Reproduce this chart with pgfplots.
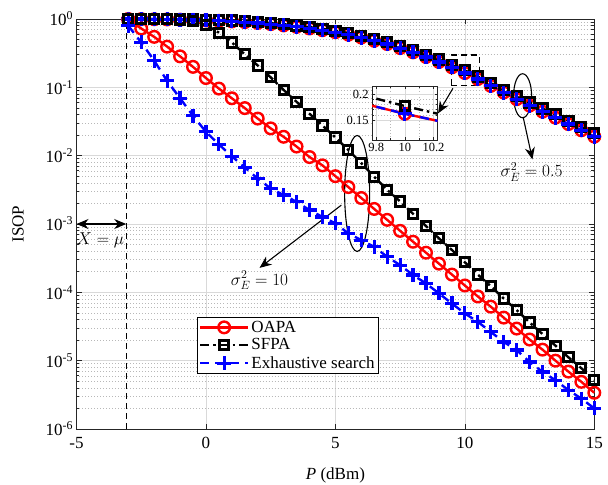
\documentclass[border=0pt]{standalone}
\usepackage{pgfplots}
\pgfplotsset{compat=1.18}
\usepackage{pgfplotstable}
\usetikzlibrary{arrows.meta}
\usepackage{fontspec}
\setmainfont{Liberation Serif}

\pgfplotstableread{
x     oapa    sfpa    es
-3    1.0     1.0     1.0
-2.5  0.997   1.0     0.997
-2    0.992   0.999   0.992
-1.5  0.986   0.996   0.986
-1    0.978   0.992   0.978
-0.5  0.968   0.985   0.968
0     0.955   0.975   0.955
0.5   0.94    0.963   0.94
1     0.922   0.948   0.922
1.5   0.90    0.928   0.90
2     0.875   0.906   0.875
2.5   0.842   0.874   0.842
3     0.805   0.839   0.805
3.5   0.767   0.802   0.767
4     0.727   0.763   0.727
4.5   0.685   0.721   0.685
5     0.64    0.676   0.64
5.5   0.59    0.625   0.59
6     0.535   0.569   0.535
6.5   0.48    0.512   0.48
7     0.43    0.460   0.43
7.5   0.375   0.403   0.375
8     0.325   0.350   0.325
8.5   0.278   0.300   0.278
9     0.235   0.255   0.235
9.5   0.196   0.213   0.196
10    0.162   0.177   0.162
10.5  0.132   0.1445  0.132
11    0.105   0.1153  0.105
11.5  0.084   0.0925  0.084
12    0.067   0.0740  0.067
12.5  0.054   0.0599  0.054
13    0.044   0.0489  0.044
13.5  0.036   0.0402  0.036
14    0.029   0.0325  0.029
14.5  0.0235  0.0264  0.0235
15    0.019   0.0214  0.019
}\uppertab

\pgfplotstableread{
x     oapa     sfpa     es
-3    0.977    1.0      0.798
-2.5  0.726    0.998    0.454
-2    0.548    0.995    0.246
-1.5  0.394    0.989    0.1245
-1    0.284    0.973    0.0692
-0.5  0.1995   0.929    0.0384
0     0.1368   0.822    0.0223
0.5   0.0959   0.631    0.0146
1     0.0692   0.454    0.0098
1.5   0.0497   0.304    0.00673
2     0.0349   0.209    0.00461
2.5   0.0251   0.140    0.00332
3     0.0189   0.0916   0.00265
3.5   0.0136   0.0614   0.00211
4     0.00955  0.0411   0.00160
4.5   0.00721  0.0276   0.00127
5     0.00501  0.0185   0.00102
5.5   0.00347  0.0121   7.28e-4
6     0.00240  0.00776  5.81e-4
6.5   0.00166  0.00490  4.63e-4
7     0.00115  0.00316  3.31e-4
7.5   7.94e-4  0.00214  2.50e-4
8     5.50e-4  0.00141  1.79e-4
8.5   3.80e-4  9.33e-4  1.35e-4
9     2.63e-4  6.17e-4  9.64e-5
9.5   1.82e-4  4.17e-4  6.87e-5
10    1.26e-4  2.75e-4  4.91e-5
10.5  8.71e-5  1.82e-4  3.70e-5
11    6.17e-5  1.23e-4  2.64e-5
11.5  4.27e-5  8.13e-5  1.88e-5
12    2.95e-5  5.50e-5  1.43e-5
12.5  2.04e-5  3.63e-5  9.59e-6
13    1.45e-5  2.45e-5  6.85e-6
13.5  1.00e-5  1.66e-5  5.18e-6
14    6.92e-6  1.12e-5  3.70e-6
14.5  4.90e-6  7.76e-6  2.79e-6
15    3.39e-6  5.25e-6  2.00e-6
}\lowertab

\tikzset{
  oapa/.style={red, line width=2.4bp, mark=o, mark size=5.8bp, mark options={solid, line width=2.4bp}},
  sfpa/.style={black, line width=2.4bp, dash pattern=on 9bp off 4bp on 2.5bp off 4bp, mark=square, mark size=4.6bp, mark options={solid, line width=3bp}},
  es/.style={blue, line width=2.4bp, dash pattern=on 9bp off 6bp, mark=+, mark size=7bp, mark options={solid, line width=3.2bp}},
  arr/.style={line width=1.1bp, -{Stealth[length=12bp,width=10bp]}},
}

\begin{document}
\begin{tikzpicture}
\path[use as bounding box] (-76.5bp,-56bp) rectangle (531.5bp,429bp);
\begin{axis}[
  at={(0,0)}, anchor=south west,
  scale only axis, width=517.8bp, height=410bp,
  ymode=log, xmin=-5, xmax=15, ymin=1e-6, ymax=1,
  xtick={-5,0,5,10,15}, xticklabels={-5,0,5,10,15},
  ytick={1e-6,1e-5,1e-4,1e-3,1e-2,1e-1,1},
  yticklabels={10\textsuperscript{-6},10\textsuperscript{-5},10\textsuperscript{-4},10\textsuperscript{-3},10\textsuperscript{-2},10\textsuperscript{-1},10\textsuperscript{0}},
  minor ytick={2e-6,3e-6,4e-6,5e-6,6e-6,7e-6,8e-6,9e-6,
               2e-5,3e-5,4e-5,5e-5,6e-5,7e-5,8e-5,9e-5,
               2e-4,3e-4,4e-4,5e-4,6e-4,7e-4,8e-4,9e-4,
               2e-3,3e-3,4e-3,5e-3,6e-3,7e-3,8e-3,9e-3,
               2e-2,3e-2,4e-2,5e-2,6e-2,7e-2,8e-2,9e-2,
               0.2,0.3,0.4,0.5,0.6,0.7,0.8,0.9},
  xmajorgrids, ymajorgrids, yminorgrids,
  major grid style={black!15, line width=0.7bp},
  minor grid style={black!28, dash pattern=on 1bp off 2bp, line width=0.6bp},
  axis line style={black!85, line width=0.7bp},
  tick style={black!85, line width=0.7bp},
  major tick length=5bp, minor tick length=3bp,
  tick label style={font=\fontsize{17bp}{20bp}\selectfont, black},
  xticklabel style={yshift=-5bp},
  label style={font=\fontsize{17bp}{20bp}\selectfont},
  xlabel={\textit{P} (dBm)},
  ylabel={ISOP},
  xlabel style={at={(axis description cs:0.5,-0.112)}, anchor=center},
  ylabel style={at={(axis description cs:-0.113,0.5)}, anchor=center},
  clip=false,
  legend image code/.code={\draw[mark repeat=2,mark phase=2] plot coordinates {(0bp,0bp) (24bp,0bp) (48bp,0bp)};},
  legend style={at={(axis description cs:0.232,0.274)}, anchor=north west,
    font=\fontsize{17bp}{19bp}\selectfont, draw=black, line width=0.7bp,
    inner xsep=2bp, inner ysep=2bp, row sep=1bp, cells={anchor=west}},
]
\addplot[oapa] table[x=x,y=oapa] {\uppertab};
\addlegendentry{OAPA}
\addplot[sfpa] table[x=x,y=sfpa] {\uppertab};
\addlegendentry{SFPA}
\addplot[es] table[x=x,y=es] {\uppertab};
\addlegendentry{Exhaustive search}
\addplot[oapa, forget plot] table[x=x,y=oapa] {\lowertab};
\addplot[sfpa, forget plot] table[x=x,y=sfpa] {\lowertab};
\addplot[es, forget plot] table[x=x,y=es] {\lowertab};

% X = mu
\draw[black, line width=1.2bp, dash pattern=on 6bp off 4bp] (axis cs:-3.08,1e-6) -- (axis cs:-3.08,1);
\draw[line width=1.1bp, {Stealth[length=12bp,width=10bp]}-{Stealth[length=12bp,width=10bp]}] (axis cs:-5,1e-3) -- (axis cs:-3.08,1e-3);
\node[anchor=west, inner sep=0pt, font=\fontsize{17bp}{20bp}\selectfont] at (axis cs:-5,5.7e-4) {$X=\mu$};

% sigma = 10
\draw[line width=1.1bp] (axis cs:5.84,2.8e-3) ellipse [x radius=12.5bp, y radius=58bp];
\draw[arr] (axis cs:5.23,1.89e-3) -- (axis cs:2.07,2.28e-4);
\node[font=\fontsize{17bp}{20bp}\selectfont] at (axis cs:2.07,1.5e-4) {$\sigma_E^2=10$};

% sigma = 0.5
\draw[line width=1.1bp] (axis cs:12.23,0.0753) ellipse [x radius=9bp, y radius=22bp];
\draw[arr] (axis cs:12.25,0.037) -- (axis cs:12.61,8.8e-3);
\node[font=\fontsize{17bp}{20bp}\selectfont] at (axis cs:12.58,5.75e-3) {$\sigma_E^2=0.5$};

% zoom box
\draw[black, line width=1.1bp, dash pattern=on 6bp off 4bp] (axis cs:9.48,0.108) rectangle (axis cs:10.55,0.297);
\draw[arr] (axis cs:9.54,0.0967) -- (axis cs:8.966,0.0416);
\end{axis}

\begin{axis}[
  at={(295.5bp,289bp)}, anchor=south west,
  scale only axis, width=65.7bp, height=54bp,
  xmin=9.77, xmax=10.23, ymin=0.111, ymax=0.216,
  xtick={9.8,10,10.2}, xticklabels={9.8,10,10.2},
  ytick={0.15,0.2}, yticklabels={0.15,0.2},
  minor x tick num=1, minor y tick num=4,
  xmajorgrids, ymajorgrids, xminorgrids, yminorgrids,
  major grid style={black!15, line width=0.5bp},
  minor grid style={black!28, dash pattern=on 1bp off 2bp, line width=0.5bp},
  axis line style={black!85, line width=0.7bp},
  tick style={black!85, line width=0.5bp},
  major tick length=3bp, minor tick length=2bp,
  tick label style={font=\fontsize{12.5bp}{14bp}\selectfont, black},
  axis background/.style={fill=white},
]
\addplot[oapa] table[x=x,y=oapa] {\uppertab};
\addplot[sfpa] table[x=x,y=sfpa] {\uppertab};
\addplot[es] table[x=x,y=es] {\uppertab};
\end{axis}
\end{tikzpicture}
\end{document}
